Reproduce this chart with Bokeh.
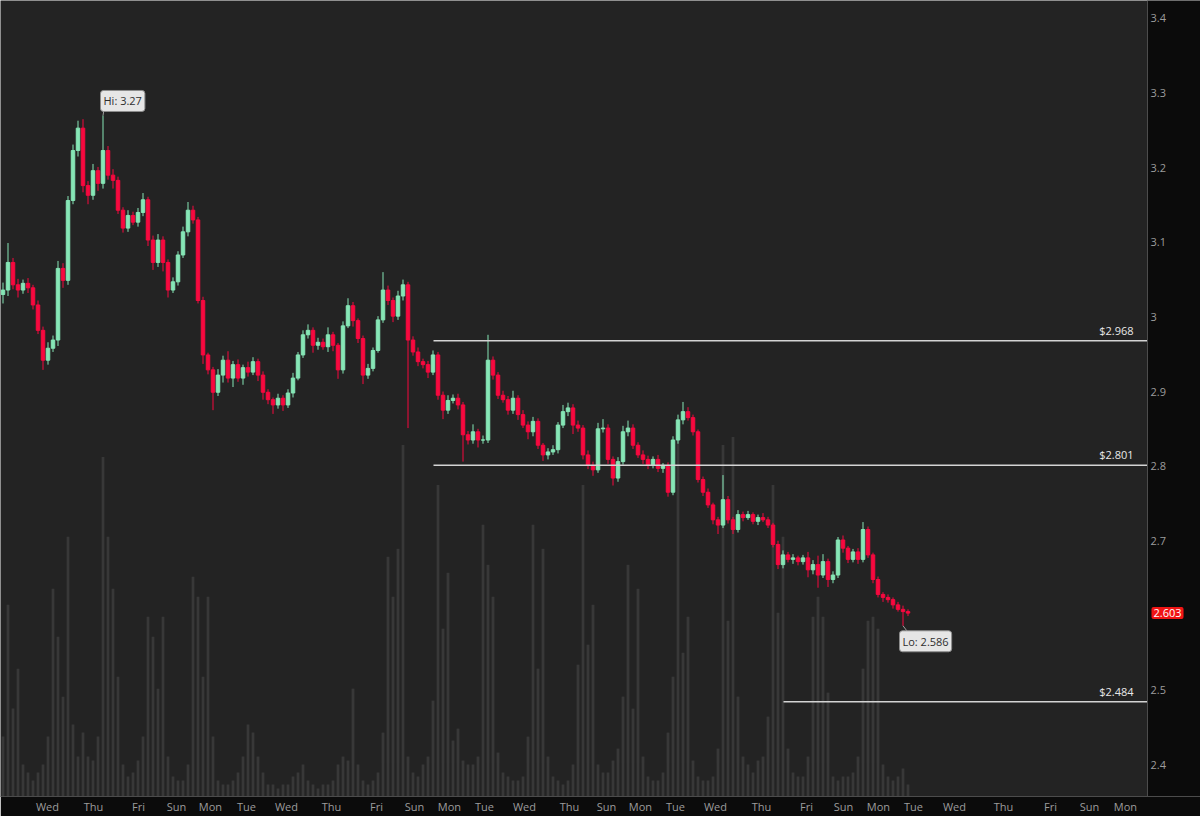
from bokeh.plotting import figure
from bokeh.models import Range1d, FixedTicker, Label, ColumnDataSource, LinearAxis, BoxAnnotation
from bokeh.embed import file_html
from bokeh.resources import INLINE

# ---------------- data ----------------
closes = [
    3.036, 3.073, 3.043, 3.036, 3.045, 3.039, 3.016, 2.982, 2.942, 2.958,
    2.969, 3.065, 3.049, 3.156, 3.223, 3.253, 3.176, 3.163, 3.196, 3.179,
    3.223, 3.190, 3.183, 3.143, 3.119, 3.136, 3.127, 3.140, 3.157, 3.103,
    3.073, 3.103, 3.073, 3.036, 3.047, 3.083, 3.114, 3.143, 3.130, 3.022,
    2.949, 2.929, 2.899, 2.922, 2.942, 2.918, 2.936, 2.918, 2.932, 2.926,
    2.940, 2.922, 2.899, 2.889, 2.882, 2.891, 2.882, 2.898, 2.918, 2.949,
    2.976, 2.982, 2.962, 2.966, 2.960, 2.976, 2.962, 2.929, 2.988, 3.015,
    2.995, 2.971, 2.922, 2.931, 2.955, 2.996, 3.036, 3.022, 3.001, 3.028,
    3.043, 2.969, 2.953, 2.940, 2.936, 2.926, 2.949, 2.895, 2.875, 2.888,
    2.891, 2.882, 2.842, 2.835, 2.846, 2.835, 2.835, 2.942, 2.922, 2.895,
    2.889, 2.875, 2.891, 2.869, 2.855, 2.846, 2.860, 2.828, 2.815, 2.819,
    2.822, 2.855, 2.873, 2.878, 2.855, 2.851, 2.815, 2.801, 2.795, 2.850,
    2.851, 2.809, 2.784, 2.806, 2.846, 2.851, 2.828, 2.815, 2.809, 2.801,
    2.809, 2.797, 2.801, 2.765, 2.835, 2.862, 2.873, 2.865, 2.846, 2.782,
    2.765, 2.748, 2.728, 2.721, 2.755, 2.728, 2.715, 2.735, 2.731, 2.735,
    2.726, 2.731, 2.728, 2.721, 2.695, 2.668, 2.681, 2.675, 2.677, 2.672,
    2.677, 2.661, 2.668, 2.654, 2.672, 2.648, 2.654, 2.701, 2.690, 2.675,
    2.685, 2.675, 2.715, 2.681, 2.648, 2.628, 2.624, 2.621, 2.614, 2.608,
    2.605, 2.603,
]

wick_up = [
    .010, .026, .006, .008, .005, .007, .004, .006, .005, .008,
    .006, .010, .007, .006, .008, .010, .012, .006, .009, .005,
    .047, .006, .008, .005, .004, .007, .005, .006, .009, .004,
    .006, .008, .005, .004, .006, .005, .007, .011, .006, .004,
    .005, .003, .004, .008, .006, .012, .005, .007, .004, .008,
    .006, .004, .005, .004, .003, .006, .004, .005, .007, .004,
    .006, .008, .004, .006, .005, .010, .004, .003, .006, .010,
    .005, .003, .004, .006, .004, .005, .024, .006, .004, .007,
    .007, .004, .005, .006, .004, .005, .006, .004, .005, .007,
    .005, .006, .004, .005, .010, .004, .006, .034, .005, .004,
    .006, .005, .010, .004, .006, .005, .006, .004, .003, .005,
    .006, .004, .009, .007, .005, .006, .004, .006, .005, .008,
    .012, .005, .004, .006, .008, .010, .005, .004, .006, .005,
    .004, .006, .003, .004, .005, .007, .013, .006, .004, .003,
    .004, .005, .003, .004, .033, .005, .004, .006, .004, .005,
    .003, .004, .006, .004, .003, .005, .006, .004, .005, .003,
    .004, .008, .006, .012, .010, .004, .005, .004, .006, .003,
    .004, .005, .010, .004, .003, .004, .003, .004, .003, .004,
    .005, .003,
]

wick_dn = [
    .012, .008, .006, .010, .005, .007, .006, .005, .013, .006,
    .005, .008, .010, .006, .005, .008, .009, .012, .006, .010,
    .007, .006, .011, .005, .006, .005, .004, .006, .005, .008,
    .010, .006, .012, .010, .004, .005, .004, .006, .005, .004,
    .012, .006, .024, .005, .010, .006, .012, .005, .009, .006,
    .004, .008, .010, .006, .012, .005, .008, .004, .006, .003,
    .004, .005, .010, .006, .004, .007, .008, .012, .005, .003,
    .008, .006, .012, .005, .004, .003, .004, .006, .008, .005,
    .006, .118, .005, .006, .005, .008, .004, .006, .012, .005,
    .004, .006, .036, .006, .005, .010, .005, .004, .006, .005,
    .004, .006, .005, .007, .004, .010, .006, .005, .008, .006,
    .004, .005, .004, .006, .012, .005, .006, .005, .008, .004,
    .005, .006, .010, .005, .004, .006, .005, .004, .006, .005,
    .004, .005, .006, .006, .004, .005, .006, .004, .005, .004,
    .005, .004, .006, .012, .004, .005, .006, .004, .005, .003,
    .004, .005, .003, .004, .004, .006, .005, .004, .006, .005,
    .004, .010, .006, .017, .004, .010, .005, .004, .006, .005,
    .004, .006, .004, .004, .005, .004, .006, .004, .005, .003,
    .019, .004,
]

volume = [
    15, 48, 22, 32, 8, 6, 4, 6, 8, 15,
    52, 40, 25, 65, 18, 10, 16, 10, 9, 15,
    85, 65, 52, 30, 8, 5, 6, 9, 15, 45,
    40, 27, 45, 10, 5, 4, 4, 8, 55, 50,
    30, 50, 15, 4, 3, 3, 4, 6, 10, 18,
    16, 10, 6, 3, 3, 2, 3, 3, 5, 6,
    8, 4, 3, 2, 3, 3, 4, 8, 10, 9,
    27, 8, 4, 3, 4, 6, 16, 60, 50, 62,
    88, 10, 6, 5, 8, 10, 24, 78, 42, 56,
    14, 17, 9, 8, 8, 10, 68, 58, 50, 11,
    6, 5, 4, 4, 5, 15, 68, 32, 62, 10,
    5, 4, 3, 4, 8, 33, 78, 38, 48, 8,
    6, 6, 9, 12, 25, 58, 22, 52, 10, 5,
    4, 4, 6, 16, 30, 90, 36, 45, 9, 5,
    4, 4, 5, 12, 88, 44, 90, 25, 10, 8,
    6, 9, 10, 20, 78, 46, 65, 12, 6, 5,
    5, 10, 45, 50, 45, 26, 5, 4, 5, 5,
    6, 10, 32, 44, 45, 42, 8, 5, 4, 5,
    7, 3,
]

day_tick_pos = [8.9, 18.1, 27.1, 34.7, 41.5, 48.7, 56.7, 65.7, 74.7, 82.3,
                89.3, 96.3, 104.3, 113.3, 120.7, 127.5, 134.5, 142.5, 151.7,
                160.7, 168.1, 175.1, 182.1, 190.3, 200.1, 209.5, 217.3, 224.5]
day_tick_lbl = ["Wed", "Thu", "Fri", "Sun", "Mon", "Tue", "Wed", "Thu", "Fri", "Sun",
                "Mon", "Tue", "Wed", "Thu", "Sun", "Mon", "Tue", "Wed", "Thu",
                "Fri", "Sun", "Mon", "Tue", "Wed", "Thu", "Fri", "Sun", "Mon"]

price_ticks = [2.4, 2.5, 2.6, 2.7, 2.8, 2.9, 3.0, 3.1, 3.2, 3.3, 3.4]
hidden_price_tick = 2.6

levels = [2.968, 2.801, 2.484]
level_start = [86.1, 86.1, 156.1]

# ---------------- derived ----------------
n = len(closes)
idx = list(range(n))
opens = [closes[0] - 0.006] + closes[:-1]
tops = [max(o, c) for o, c in zip(opens, closes)]
bots = [min(o, c) for o, c in zip(opens, closes)]
highs = [t + u for t, u in zip(tops, wick_up)]
lows = [b - d for b, d in zip(bots, wick_dn)]
UP, DOWN = "#86e6b6", "#f7093f"
colors = [UP if c >= o else DOWN for o, c in zip(opens, closes)]

src = ColumnDataSource(dict(x=idx, top=tops, bottom=bots, high=highs, low=lows,
                            color=colors, vol=volume))

XL, XAX, XR = -0.5, 228.9, 239.5     # left edge, price-axis edge, right edge (bar units)
Y0, Y1 = 2.35716, 3.42410

p = figure(width=1200, height=816, title=None,
           x_range=Range1d(XL, XR), y_range=Range1d(Y0, Y1),
           y_axis_location=None, output_backend="svg", toolbar_location=None,
           min_border_left=0, min_border_top=0, min_border_right=0, min_border_bottom=19)

p.background_fill_color = "#232323"
p.border_fill_color = "#0b0b0b"
p.outline_line_color = None
p.xgrid.visible = False
p.ygrid.visible = False

# dark price-axis strip
p.add_layout(BoxAnnotation(left=XAX, fill_color="#0b0b0b", fill_alpha=1.0,
                           line_color=None, level="underlay"))

# volume (own scale)
p.extra_y_ranges = {"vol": Range1d(0, 199.25)}
p.vbar(x="x", top="vol", bottom=0, width=0.55, source=src, y_range_name="vol",
       fill_color="#383838", line_color=None)

# candles
p.segment(x0="x", y0="high", x1="x", y1="low", source=src, line_color="color", line_width=1)
p.vbar(x="x", top="top", bottom="bottom", width=0.7, source=src,
       fill_color="color", line_color="color", line_width=1)

# level lines
p.segment(x0=level_start, y0=levels, x1=[XAX] * len(levels), y1=levels,
          line_color="#d4d4d4", line_width=1.5)
for lv in levels:
    p.add_layout(Label(x=XAX, y=lv, x_offset=-14, y_offset=3, text=f"${lv:.3f}",
                       text_align="right", text_baseline="bottom", text_color="#e8e8e8",
                       text_font="Open Sans", text_font_size="11px"))

# hi / lo markers
hi = max(highs)
hi_i = highs.index(hi)
lo = min(lows)
lo_i = lows.index(lo)
p.segment(x0=[hi_i, lo_i], y0=[hi, lo], x1=[hi_i + 0.2, lo_i + 0.8], y1=[hi + 0.008, lo - 0.007],
          line_color="#a0a0a0", line_width=1)
p.add_layout(Label(x=hi_i, y=hi, x_offset=-2.5, y_offset=4, text=f"Hi: {hi:g}",
                   text_align="left", text_baseline="bottom", text_color="#2e2e2e",
                   text_font="Open Sans", text_font_size="11px",
                   background_fill_color="#e6e6e6", border_line_color="#8c8c8c",
                   padding=3, border_radius=3))
p.add_layout(Label(x=lo_i, y=lo, x_offset=-3.5, y_offset=-5, text=f"Lo: {lo:g}",
                   text_align="left", text_baseline="top", text_color="#2e2e2e",
                   text_font="Open Sans", text_font_size="11px",
                   background_fill_color="#e6e6e6", border_line_color="#8c8c8c",
                   padding=3, border_radius=3))

# axes
yax = LinearAxis(fixed_location=XAX)
p.add_layout(yax, "right")
yax.ticker = FixedTicker(ticks=price_ticks)
yax.major_label_overrides = {t: ("" if abs(t - hidden_price_tick) < 1e-9 else f"{t:g}")
                             for t in price_ticks}
p.xaxis.ticker = FixedTicker(ticks=day_tick_pos)
p.xaxis.major_label_overrides = dict(zip(day_tick_pos, day_tick_lbl))
for ax in (p.xaxis[0], yax):
    ax.axis_line_color = "#4c4c4c"
    ax.major_tick_line_color = None
    ax.minor_tick_line_color = None
    ax.major_tick_out = 0
    ax.major_tick_in = 0
    ax.major_label_text_color = "#9c9c9c"
    ax.major_label_text_font = "Open Sans"
    ax.major_label_text_font_size = "11px"
yax.major_label_standoff = 3
p.xaxis.major_label_standoff = 2

# last price bubble on the price axis
p.add_layout(Label(x=XAX, y=closes[-1], x_offset=4, text=f"{closes[-1]:.3f}",
                   text_align="left", text_baseline="middle", text_color="#ffffff",
                   text_font="Open Sans", text_font_size="11px",
                   background_fill_color="#f01414", padding=2, border_radius=2))

open("out.html", "w").write(file_html(p, INLINE))
